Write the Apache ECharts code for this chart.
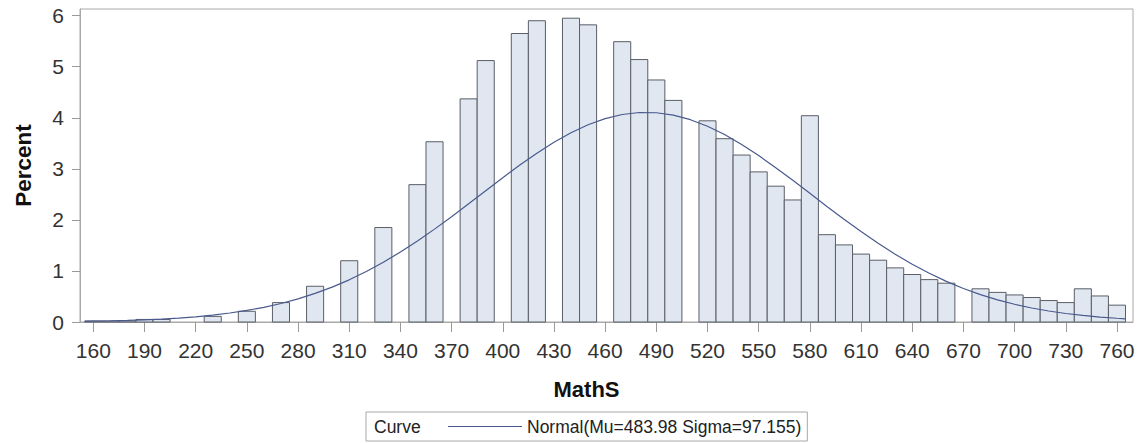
<!DOCTYPE html>
<html>
<head>
<meta charset="utf-8">
<script src="https://cdn.jsdelivr.net/npm/echarts@6/dist/echarts.min.js"></script>
<style>
html,body{margin:0;padding:0;background:#fff;}
#chart{width:1139px;height:443px;}
</style>
</head>
<body>
<div id="chart"></div>
<script>
// ---- data ----
const binWidth = 10;
const binCenters = [160,170,180,190,200,210,220,230,240,250,260,270,280,290,300,310,320,330,340,350,
  360,370,380,390,400,410,420,430,440,450,460,470,480,490,500,510,520,530,540,550,
  560,570,580,590,600,610,620,630,640,650,660,670,680,690,700,710,720,730,740,750,760];
const percents = [0.02,0.02,0.02,0.05,0.05,0,0,0.11,0,0.21,0,0.38,0,0.70,0,1.20,0,1.85,0,2.69,
  3.53,0,4.37,5.12,0,5.65,5.90,0,5.95,5.82,0,5.49,5.14,4.74,4.34,0,3.94,3.59,3.27,2.94,
  2.66,2.39,4.04,1.71,1.51,1.33,1.21,1.06,0.93,0.83,0.76,0,0.65,0.58,0.53,0.48,0.42,0.38,0.65,0.51,0.33];
const curveX = [155,160,170,180,190,200,210,220,230,240,250,260,270,280,290,300,310,320,330,340,350,
  360,370,380,390,400,410,420,430,440,450,460,470,480,490,500,510,520,530,540,550,
  560,570,580,590,600,610,620,630,640,650,660,670,680,690,700,710,720,730,740,750,760,765];
const curveY = [0.013,0.016,0.022,0.031,0.042,0.057,0.077,0.102,0.135,0.176,0.226,0.288,0.363,0.453,0.560,0.684,0.826,0.988,1.170,1.370,1.587,
  1.819,2.063,2.316,2.572,2.826,3.073,3.306,3.519,3.706,3.863,3.983,4.064,4.103,4.098,4.051,3.962,3.834,3.671,3.477,3.260,
  3.023,2.775,2.520,2.264,2.013,1.771,1.541,1.327,1.131,0.954,0.796,0.657,0.536,0.434,0.347,0.274,0.215,0.166,0.128,0.097,0.073,0.063];
const xTicks = [160,190,220,250,280,310,340,370,400,430,460,490,520,550,580,610,640,670,700,730,760];
const curveName = 'Normal(Mu=483.98 Sigma=97.155)';
const xTitle = 'MathS';
const yTitle = 'Percent';
const legendTitle = 'Curve';

// ---- chart ----
const FONT = '"Liberation Sans", Arial, sans-serif';
const CURVE_COLOR = '#4a5a8e';
const chart = echarts.init(document.getElementById('chart'), null, {renderer: 'svg'});

const barData = [];
binCenters.forEach((c, i) => { if (percents[i] > 0) barData.push([c, percents[i]]); });

chart.setOption({
  animation: false,
  textStyle: {fontFamily: FONT},
  grid: {left: 80, right: 6, top: 9, bottom: 121, show: true, borderColor: '#a9a9a9', borderWidth: 1, backgroundColor: 'transparent'},
  xAxis: {
    type: 'value', min: 152.2, max: 769.4,
    splitLine: {show: false},
    axisLine: {show: true, onZero: false, lineStyle: {color: '#a9a9a9'}},
    axisTick: {show: true, length: 10, lineStyle: {color: '#9a9a9a'}, customValues: xTicks},
    axisLabel: {show: true, customValues: xTicks, fontSize: 21, color: '#333', margin: 18, fontFamily: FONT},
    name: xTitle, nameLocation: 'middle', nameGap: 56,
    nameTextStyle: {fontSize: 22, fontWeight: 'bold', color: '#111', fontFamily: FONT, padding: [0, 40, 0, 0]}
  },
  yAxis: {
    type: 'value', min: 0, max: 6.13, interval: 1,
    splitLine: {show: false},
    axisLine: {show: true, lineStyle: {color: '#a9a9a9'}},
    axisTick: {show: true, length: 8, lineStyle: {color: '#9a9a9a'}},
    axisLabel: {fontSize: 21, color: '#333', margin: 16, fontFamily: FONT, showMaxLabel: false},
    name: yTitle, nameLocation: 'middle', nameGap: 45,
    nameTextStyle: {fontSize: 22.5, fontWeight: 'bold', color: '#111', fontFamily: FONT}
  },
  legend: {
    show: true, left: 366, top: 412,
    padding: [4, 6, 4, 82],
    borderColor: '#a9a9a9', borderWidth: 1,
    itemWidth: 74, itemHeight: 1.2,
    symbolKeepAspect: false,
    itemStyle: {color: CURVE_COLOR, borderWidth: 0},
    textStyle: {fontSize: 17.5, color: '#222', fontFamily: FONT, lineHeight: 21},
    data: [{name: curveName, icon: 'path://M0,0H740V12H0Z'}],
    selectedMode: false
  },
  graphic: [{
    type: 'text', left: 374, top: 416,
    style: {text: legendTitle, fontSize: 17.5, fill: '#222', fontFamily: FONT, lineHeight: 21}
  }],
  series: [
    {
      type: 'custom', name: 'bars', z: 1,
      data: barData,
      encode: {x: 0, y: 1},
      renderItem: function (params, api) {
        const c = api.value(0), h = api.value(1);
        const p1 = api.coord([c - binWidth / 2, h]);
        const p2 = api.coord([c + binWidth / 2, 0]);
        return {
          type: 'rect',
          shape: {x: p1[0], y: p1[1], width: p2[0] - p1[0], height: p2[1] - p1[1]},
          style: {fill: '#e0e7f1', stroke: '#5a5e66', lineWidth: 1}
        };
      }
    },
    {
      type: 'line', name: curveName, z: 3,
      data: curveX.map((x, i) => [x, curveY[i]]),
      symbol: 'none', showSymbol: false, smooth: false,
      lineStyle: {color: CURVE_COLOR, width: 1.2},
      itemStyle: {color: CURVE_COLOR}
    }
  ]
});
</script>
</body>
</html>
